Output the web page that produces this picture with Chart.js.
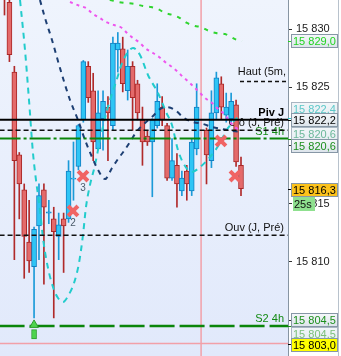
<!DOCTYPE html>
<html>
<head>
<meta charset="utf-8">
<script src="https://cdn.jsdelivr.net/npm/chart.js@4.4.1/dist/chart.umd.min.js"></script>
<style>
  html, body { margin: 0; padding: 0; background: #fff; }
  canvas { display: block; }
</style>
</head>
<body>
<canvas id="c" width="341" height="356"></canvas>
<script>
// candle slots, slot 40 is empty
const slots = [0,1,2,3,4,5,6,7,8,9,10,11,12,13,14,15,16,17,18,19,20,21,22,23,24,25,26,27,28,29,30,31,32,33,34,35,36,37,38,39,41,42,43,44,45,46,47,48];
const opens  = [15834.0,15832.3,15826.3,15819.2,15816.2,15811.7,15809.6,15813.1,15816.2,15814.2,15813.7,15812.2,15813.7,15813.7,15817.1,15818.2,15822.2,15826.8,15824.7,15819.7,15822.3,15823.3,15821.7,15828.2,15828.3,15824.7,15826.8,15825.3,15822.2,15820.8,15820.3,15821.7,15823.3,15821.7,15817.2,15818.3,15816.1,15817.8,15816.1,15819.7,15821.3,15818.7,15822.8,15825.3,15822.6,15822.3,15823.5,15818.3];
const highs  = [15834.5,15833.0,15826.8,15819.4,15816.7,15815.3,15813.0,15816.7,15816.7,15815.3,15814.7,15814.2,15814.2,15818.7,15820.3,15821.8,15827.3,15827.2,15826.2,15824.7,15824.7,15824.2,15829.3,15829.7,15829.3,15828.2,15827.2,15825.6,15823.3,15821.3,15822.3,15825.3,15824.2,15821.9,15820.6,15819.3,15817.8,15818.3,15820.6,15825.3,15821.5,15824.7,15826.3,15825.9,15824.5,15824.5,15823.9,15819.0];
const lows   = [15831.2,15827.2,15810.2,15813.7,15808.6,15809.1,15805.2,15810.2,15808.1,15813.3,15805.2,15810.2,15809.1,15813.4,15815.3,15817.9,15822.0,15823.7,15818.7,15819.6,15819.6,15818.7,15821.3,15826.3,15824.6,15823.9,15821.3,15822.2,15818.3,15820.0,15815.6,15821.5,15821.7,15817.0,15817.0,15814.7,15815.7,15815.3,15815.7,15819.2,15816.7,15818.1,15822.3,15822.3,15822.0,15822.0,15818.2,15815.7];
const closes = [15833.0,15827.8,15818.7,15816.7,15812.2,15810.1,15812.8,15815.7,15814.7,15814.3,15812.6,15813.2,15813.1,15817.8,15817.2,15821.7,15827.2,15824.1,15820.3,15822.8,15823.8,15822.8,15828.8,15828.8,15825.3,15826.8,15824.1,15822.8,15820.3,15820.3,15822.2,15823.8,15822.2,15817.2,15818.7,15816.7,15817.2,15816.7,15820.3,15823.3,15819.2,15822.8,15825.8,15823.3,15823.3,15823.8,15818.6,15816.3];

// moving averages (x in candle slots)
const maNavyX = [7.2,8.22,9.64,11.26,13.29,14.92,16.34,17.76,18.98,20.4,21.82,23.04,24.25,25.47,26.89,28.52,30.14,31.56,32.98,34.6,36.43,38.26,40.29,42.12,44.14,46.38,48.0];
const maNavyY = [15832.49,15830.94,15829.06,15826.65,15823.91,15822.19,15820.47,15819.01,15817.9,15817.12,15818.07,15818.84,15819.53,15820.3,15821.24,15821.93,15822.53,15823.13,15823.3,15823.05,15822.36,15822.02,15821.85,15821.59,15821.42,15821.24,15821.16];
const maCyanX = [3.15,4.16,4.97,5.78,6.39,7.21,7.81,8.83,10.05,10.86,11.87,12.89,14.11,15.12,15.93,16.54,17.35,18.37,19.38,20.4,21.41,22.63,23.85,25.07,26.08,27.5,29.12,31.15,32.78,33.99,35.21,36.63,38.05,39.68,41.71,43.74,44.96,46.18,47.39];
const maCyanY = [15832.49,15828.2,15823.91,15819.36,15817.04,15814.46,15812.06,15809.48,15807.6,15806.91,15806.57,15807.08,15808.2,15809.91,15812.32,15814.72,15816.61,15818.33,15820.47,15822.36,15823.91,15825.45,15827.08,15828.03,15828.37,15827.77,15826.05,15824.51,15822.88,15821.76,15819.61,15818.24,15817.73,15818.15,15819.01,15820.21,15821.24,15821.93,15822.45];
const maPinkX = [13.29,15.32,16.54,17.96,19.38,20.6,22.22,23.85,24.86,26.08,27.5,28.52,30.14,31.36,32.58,33.99,35.21,36.23,37.65,38.66,39.68,40.69,42.12,43.13,44.75,45.77,46.78,47.8];
const maPinkY = [15832.32,15831.97,15831.8,15831.29,15830.94,15830.6,15830.34,15830.09,15829.66,15829.23,15828.8,15828.37,15827.94,15827.6,15827.17,15826.74,15826.31,15825.88,15825.36,15824.94,15824.51,15824.08,15823.65,15823.22,15822.62,15822.02,15821.59,15821.24];
const maGreenX = [19.38,21.41,23.04,24.66,26.49,28.11,29.73,31.15,32.58,34.2,35.62,37.04,38.66,39.88,41.51,42.93,44.75,45.57,47.19,48.2];
const maGreenY = [15832.66,15832.49,15832.32,15832.23,15832.15,15831.97,15831.89,15831.72,15831.37,15831.2,15830.94,15830.52,15830.26,15830.17,15829.83,15829.66,15829.57,15829.4,15829.06,15828.97];

// horizontal levels
const levelNames  = ["Haut (5m,", "Piv J", "Clô (J, Pré)", "S1 4h", "Ouv (J, Pré)", "S2 4h"];
const levelValues = [15825.5, 15822.2, 15821.3, 15820.6, 15812.3, 15804.5];
const levelFrom   = [47.8, -1, -1, -1, -1, -1];

// signal markers
const markX = [13.9, 15.93, 43.94, 46.78];
const markY = [15814.38, 15817.38, 15820.39, 15817.38];
const markText = ["2", "3", "", ""];
const arrowX = 6;
const arrowY = 15804.6;
const arrowStem = [15803.4, 15804.2];

// price boxes on the axis
const boxTexts  = ["15 829,0", "15 822,4", "15 822,2", "15 820,6", "15 820,6", "15 816,3", "15 804,5", "15 804,5", "15 803,0"];
const boxValues = [15829.0, 15822.4, 15822.2, 15820.6, 15820.6, 15816.3, 15804.5, 15804.5, 15803.0];

const FONT = '"Liberation Sans", Arial, sans-serif';
const X_MIN = -0.913, X_MAX = 57.54;
const Y_MIN = 15801.93, Y_MAX = 15832.49;

const candles = slots.map((s, k) => ({ x: s, o: opens[k], h: highs[k], l: lows[k], c: closes[k] }));
const up = candles.filter((d) => d.c >= d.o);
const down = candles.filter((d) => d.c < d.o);

function fmt(v) {
  return String(v).replace(/(\d\d)(\d{3})$/, "$1 $2");
}

function levelLine(v, from, color, width, dash, order) {
  return {
    type: "line",
    data: [{ x: from, y: v }, { x: X_MAX + 1, y: v }],
    borderColor: color,
    borderWidth: width,
    borderDash: dash,
    pointRadius: 0,
    order,
  };
}

function curve(xs, ys, color, dash) {
  return {
    type: "line",
    data: xs.map((x, i) => ({ x, y: ys[i] })),
    borderColor: color,
    borderWidth: 2,
    borderDash: dash,
    pointRadius: 0,
    cubicInterpolationMode: "monotone",
    order: 2,
  };
}

const background = {
  id: "background",
  beforeDraw(chart) {
    const { ctx, chartArea: a } = chart;
    ctx.save();
    ctx.fillStyle = "#ffffff";
    ctx.fillRect(0, 0, chart.width, chart.height);
    const g = ctx.createLinearGradient(0, a.top, 0, a.bottom);
    g.addColorStop(0, "#eff4fd");
    g.addColorStop(1, "#e1e9fb");
    ctx.fillStyle = g;
    ctx.fillRect(a.left, a.top, a.right - a.left, a.bottom - a.top);
    ctx.strokeStyle = "#b8c2cc";
    ctx.beginPath();
    ctx.moveTo(338.5, 0);
    ctx.lineTo(338.5, chart.height);
    ctx.stroke();
    ctx.restore();
  },
};

const levelText = {
  id: "levelText",
  beforeDatasetsDraw(chart) {
    const { ctx, chartArea: a, scales } = chart;
    const colors = ["#111", "#000", "#111", "#138a13", "#111", "#138a13"];
    ctx.save();
    ctx.textAlign = "right";
    ctx.textBaseline = "middle";
    levelNames.forEach((t, i) => {
      ctx.font = (i === 1 ? "bold " : "") + "11px " + FONT;
      ctx.fillStyle = colors[i];
      const yy = scales.y.getPixelForValue(levelValues[i]) - (i === 0 ? 9 : 7);
      ctx.fillText(t, a.right - (i === 0 ? 2 : 4), yy);
    });
    ctx.restore();
  },
  afterDatasetsDraw(chart) {
    const { ctx, scales } = chart;
    ctx.save();
    ctx.font = "10px " + FONT;
    ctx.fillStyle = "#4a5a6a";
    ctx.textAlign = "center";
    ctx.textBaseline = "middle";
    markX.forEach((x, i) => {
      if (!markText[i]) return;
      ctx.fillText(markText[i], scales.x.getPixelForValue(x), scales.y.getPixelForValue(markY[i]) + 12);
    });
    ctx.restore();
  },
};

const priceBoxes = {
  id: "priceBoxes",
  afterDraw(chart) {
    const { ctx, chartArea: a, scales } = chart;
    const y = scales.y;
    const shift = [0, -9, 0, -4.5, 7, 1, -6, 8, 1];
    const fills = ["n", "f", "n", "f", "n", "#fcc21b", "n", "f", "#ffff00"];
    const textCols = ["#22d422", "#5cc8c8", "#000", "#6cb89a", "#1c8f1c", "#000", "#1c8f1c", "#7bbf7b", "#000"];
    const tickCols = ["#22d422", "#2cc4c4", "#000", "#e040e0", "#1c8f1c", "#000", "#1c8f1c", "#1c8f1c", "#000"];
    ctx.save();
    ctx.font = "11px " + FONT;
    ctx.textBaseline = "middle";
    boxValues.forEach((v, i) => {
      const py = Math.round(y.getPixelForValue(v));
      ctx.strokeStyle = tickCols[i];
      ctx.beginPath();
      ctx.moveTo(a.right, py + 0.5);
      ctx.lineTo(a.right + 4, py + 0.5);
      ctx.stroke();
    });
    boxTexts.forEach((t, i) => {
      const cy = Math.round(y.getPixelForValue(boxValues[i]) + shift[i]);
      const top = cy - 7, h = 14, left = 291, w = 47;
      if (fills[i] === "n" || fills[i] === "f") {
        const g = ctx.createLinearGradient(0, top, 0, top + h);
        g.addColorStop(0, fills[i] === "f" ? "#f2f6f9" : "#f6f8fb");
        g.addColorStop(1, fills[i] === "f" ? "#e6edf2" : "#dbe3ea");
        ctx.fillStyle = g;
      } else {
        ctx.fillStyle = fills[i];
      }
      ctx.fillRect(left, top, w, h);
      ctx.strokeStyle = fills[i] === "f" ? "#a9b6c2" : "#8797a6";
      ctx.strokeRect(left + 0.5, top + 0.5, w - 1, h - 1);
      ctx.fillStyle = textCols[i];
      ctx.fillText(t, left + 2, cy + 0.5);
    });
    // countdown tag under the last price
    const cy = Math.round(y.getPixelForValue(15816.3)) + 15;
    ctx.fillStyle = "#8fe08f";
    ctx.fillRect(293, cy - 7, 22, 14);
    ctx.fillStyle = "#111";
    ctx.fillText("25s", 294, cy + 0.5);
    ctx.restore();
  },
};

new Chart(document.getElementById("c"), {
  type: "bar",
  data: {
    datasets: [
      {
        type: "line",
        data: markX.map((x, i) => ({ x, y: markY[i] })),
        showLine: false,
        pointStyle: "crossRot",
        pointRadius: 7,
        pointBorderWidth: 4,
        pointBorderColor: "#f06464",
        order: 0,
      },
      {
        type: "line",
        data: [{ x: arrowX, y: arrowY }],
        showLine: false,
        pointStyle: "triangle",
        pointRadius: 5,
        pointBackgroundColor: "#4ed44e",
        pointBorderColor: "#2e9e2e",
        pointBorderWidth: 1,
        order: 0,
      },
      {
        data: [{ x: arrowX, y: arrowStem }],
        backgroundColor: "#4ed44e",
        borderColor: "#2e9e2e",
        borderWidth: 1,
        borderSkipped: false,
        barThickness: 5,
        grouped: false,
        order: 0.5,
      },
      levelLine(levelValues[0], levelFrom[0], "#111", 1.5, [4, 3], 1),
      levelLine(levelValues[1], levelFrom[1], "#000", 2, [], 1),
      levelLine(levelValues[2], levelFrom[2], "#111", 1.5, [5, 3], 1),
      levelLine(levelValues[3], levelFrom[3], "#0a850a", 2, [21, 3, 3, 3], 1),
      levelLine(levelValues[4], levelFrom[4], "#111", 1.5, [5, 3], 1),
      levelLine(levelValues[5], levelFrom[5], "#0a850a", 2.5, [25, 5], 1),
      curve(maGreenX, maGreenY, "#2fd42f", [4, 6]),
      curve(maPinkX, maPinkY, "#ee55ee", [3, 4]),
      curve(maNavyX, maNavyY, "#1d3f73", [5, 5]),
      curve(maCyanX, maCyanY, "#22cccc", [6, 5]),
      {
        data: up.map((d) => ({ x: d.x, y: [Math.min(d.o, d.c), Math.max(d.o, d.c)] })),
        backgroundColor: "#2ec5f5",
        borderColor: "#137fc2",
        borderWidth: 1,
        borderSkipped: false,
        barThickness: 5,
        minBarLength: 1,
        grouped: false,
        order: 3,
      },
      {
        data: down.map((d) => ({ x: d.x, y: [Math.min(d.o, d.c), Math.max(d.o, d.c)] })),
        backgroundColor: "#e46a6a",
        borderColor: "#a92828",
        borderWidth: 1,
        borderSkipped: false,
        barThickness: 5,
        minBarLength: 1,
        grouped: false,
        order: 3,
      },
      {
        data: up.map((d) => ({ x: d.x, y: [d.l, d.h] })),
        backgroundColor: "#1b9ad8",
        borderWidth: 0,
        barThickness: 1,
        grouped: false,
        order: 4,
      },
      {
        data: down.map((d) => ({ x: d.x, y: [d.l, d.h] })),
        backgroundColor: "#b02a2a",
        borderWidth: 0,
        barThickness: 1,
        grouped: false,
        order: 4,
      },
      {
        type: "line",
        data: [{ x: 39.9, y: Y_MIN - 1 }, { x: 39.9, y: Y_MAX + 1 }],
        borderColor: "#f2a0a8",
        borderWidth: 1.5,
        pointRadius: 0,
        order: 5,
      },
      levelLine(15803.0, -1, "#f2a0a8", 1.5, [], 5),
    ],
  },
  options: {
    responsive: false,
    animation: false,
    devicePixelRatio: 1,
    layout: { padding: 0, autoPadding: false },
    plugins: { legend: { display: false }, tooltip: { enabled: false } },
    scales: {
      x: { type: "linear", display: false, min: X_MIN, max: X_MAX, offset: false },
      y: {
        position: "right",
        min: Y_MIN,
        max: Y_MAX,
        afterBuildTicks: (s) => {
          s.ticks = s.ticks.filter((t) => Math.abs(t.value % 5) < 1e-6);
        },
        afterFit: (s) => {
          s.width = 53;
          s.paddingTop = 0;
          s.paddingBottom = 0;
        },
        ticks: { stepSize: 5, padding: 4, color: "#1a1a1a", font: { family: FONT, size: 11 }, callback: fmt },
        grid: { drawOnChartArea: false, tickLength: 4, color: "#333" },
        border: { color: "#8795a3", width: 1 },
      },
    },
  },
  plugins: [background, levelText, priceBoxes],
});
</script>
</body>
</html>
